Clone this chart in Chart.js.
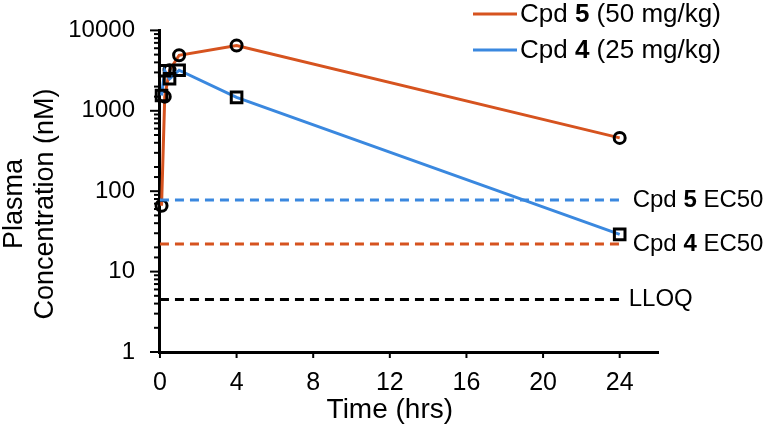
<!DOCTYPE html>
<html>
<head>
<meta charset="utf-8">
<script src="https://cdn.jsdelivr.net/npm/chart.js@4"></script>
<style>
  body { margin: 0; background: #fff; }
  #wrap { width: 773px; height: 429px; position: relative; }
</style>
</head>
<body>
<div id="wrap"><canvas id="pkChart"></canvas></div>
<script>
// Data
const timeHours = [0.083, 0.25, 0.5, 1, 4, 24];
const cpd5Conc = [66, 1500, 3200, 4900, 6500, 460];   // 50 mg/kg
const cpd4Conc = [1550, 3150, 2500, 3200, 1470, 29];  // 25 mg/kg
const xTicks = [0, 4, 8, 12, 16, 20, 24];
const yTicks = [1, 10, 100, 1000, 10000];
const ec50Cpd5 = 78;
const ec50Cpd4 = 22;
const lloq = 4.5;
const refSpan = [0, 24];

const orange = '#D6531F';
const blue = '#3A88DF';
const font = '"Liberation Sans", Arial, sans-serif';

Chart.defaults.font.family = font;
Chart.defaults.font.size = 24;
Chart.defaults.color = '#000';

const toPoints = (xs, ys) => xs.map((x, i) => ({ x: x, y: ys[i] }));
const refLine = (v) => refSpan.map(x => ({ x: x, y: v }));
const isPow10 = (v) => { const l = Math.log10(v); return Math.abs(l - Math.round(l)) < 1e-9; };

// mixed bold / regular text
function drawRich(ctx, parts, x, y, size) {
    ctx.textBaseline = 'middle';
    ctx.textAlign = 'left';
    parts.forEach(p => {
        ctx.font = (p.b ? 'bold ' : '') + size + 'px ' + font;
        ctx.fillText(p.t, x, y);
        x += ctx.measureText(p.t).width;
    });
}

const extras = {
    id: 'extras',
    afterDraw(chart) {
        const { ctx, scales: { x, y } } = chart;
        ctx.save();
        ctx.strokeStyle = '#000';
        ctx.fillStyle = '#000';
        ctx.lineWidth = 2;

        // tick marks
        y.ticks.forEach(t => {
            const py = y.getPixelForValue(t.value);
            const len = isPow10(t.value) ? 8 : 4;
            ctx.beginPath();
            ctx.moveTo(x.left - 1, py);
            ctx.lineTo(x.left - 1 - len, py);
            ctx.stroke();
        });
        x.ticks.forEach(t => {
            const px = x.getPixelForValue(t.value);
            ctx.beginPath();
            ctx.moveTo(px, y.bottom);
            ctx.lineTo(px, y.bottom + 6);
            ctx.stroke();
        });

        // axis titles
        ctx.textAlign = 'center';
        ctx.textBaseline = 'middle';
        ctx.font = '28px ' + font;
        ctx.fillText('Time (hrs)', (x.getPixelForValue(0) + x.getPixelForValue(24)) / 2, 410);
        ctx.font = '27px ' + font;
        ctx.save();
        ctx.translate(15, 204);
        ctx.rotate(-Math.PI / 2);
        ctx.fillText('Plasma', 0, 0);
        ctx.fillText('Concentration (nM)', 0, 31);
        ctx.restore();

        // legend
        const legend = [
            { color: orange, parts: [{ t: 'Cpd ' }, { t: '5', b: true }, { t: ' (50 mg/kg)' }] },
            { color: blue, parts: [{ t: 'Cpd ' }, { t: '4', b: true }, { t: ' (25 mg/kg)' }] }
        ];
        legend.forEach((item, i) => {
            const ly = 14 + i * 36;
            ctx.strokeStyle = item.color;
            ctx.lineWidth = 3;
            ctx.beginPath();
            ctx.moveTo(473, ly);
            ctx.lineTo(517, ly);
            ctx.stroke();
            drawRich(ctx, item.parts, 520, ly + 1, 26);
        });

        // labels of the reference lines
        const lx = x.getPixelForValue(24) + 13;
        drawRich(ctx, [{ t: 'Cpd ' }, { t: '5', b: true }, { t: ' EC50' }], lx, y.getPixelForValue(ec50Cpd5), 24);
        drawRich(ctx, [{ t: 'Cpd ' }, { t: '4', b: true }, { t: ' EC50' }], lx, y.getPixelForValue(ec50Cpd4), 24);
        drawRich(ctx, [{ t: 'LLOQ' }], lx - 4, y.getPixelForValue(lloq), 24);
        ctx.restore();
    }
};

const dashed = (data, color) => ({
    data: data,
    borderColor: color,
    borderWidth: 3,
    borderDash: [9, 6],
    pointRadius: 0,
    clip: false
});

new Chart(document.getElementById('pkChart'), {
    type: 'line',
    data: {
        datasets: [
            dashed(refLine(lloq), '#000'),
            dashed(refLine(ec50Cpd4), orange),
            dashed(refLine(ec50Cpd5), blue),
            {
                label: 'Cpd 4 (25 mg/kg)',
                data: toPoints(timeHours, cpd4Conc),
                borderColor: blue,
                borderWidth: 3,
                pointStyle: 'rect',
                pointRadius: 7.5,
                pointBorderColor: '#000',
                pointBorderWidth: 3,
                pointBackgroundColor: 'rgba(0,0,0,0)',
                clip: false
            },
            {
                label: 'Cpd 5 (50 mg/kg)',
                data: toPoints(timeHours, cpd5Conc),
                borderColor: orange,
                borderWidth: 3,
                pointStyle: 'circle',
                pointRadius: 5.5,
                pointBorderColor: '#000',
                pointBorderWidth: 3,
                pointBackgroundColor: 'rgba(0,0,0,0)',
                clip: false
            }
        ]
    },
    options: {
        responsive: true,
        maintainAspectRatio: false,
        animation: false,
        layout: { padding: { top: 24, right: 115, bottom: 0, left: 0 } },
        plugins: { legend: { display: false }, tooltip: { enabled: false } },
        scales: {
            x: {
                type: 'linear',
                min: -0.05,
                max: 26,
                afterBuildTicks: (s) => { s.ticks = xTicks.map(v => ({ value: v })); },
                afterFit: (s) => { s.height = 77; },
                grid: { display: false },
                border: { color: '#000', width: 3 },
                ticks: { padding: 8, maxRotation: 0, font: { size: 25 } }
            },
            y: {
                type: 'logarithmic',
                min: yTicks[0],
                max: yTicks[yTicks.length - 1],
                afterFit: (s) => { s.width = 159; },
                grid: { display: false },
                border: { color: '#000', width: 3 },
                ticks: {
                    autoSkip: false,
                    padding: 16,
                    callback: (v) => (isPow10(v) && yTicks.includes(v)) ? String(v) : ''
                }
            }
        }
    },
    plugins: [extras]
});
</script>
</body>
</html>
